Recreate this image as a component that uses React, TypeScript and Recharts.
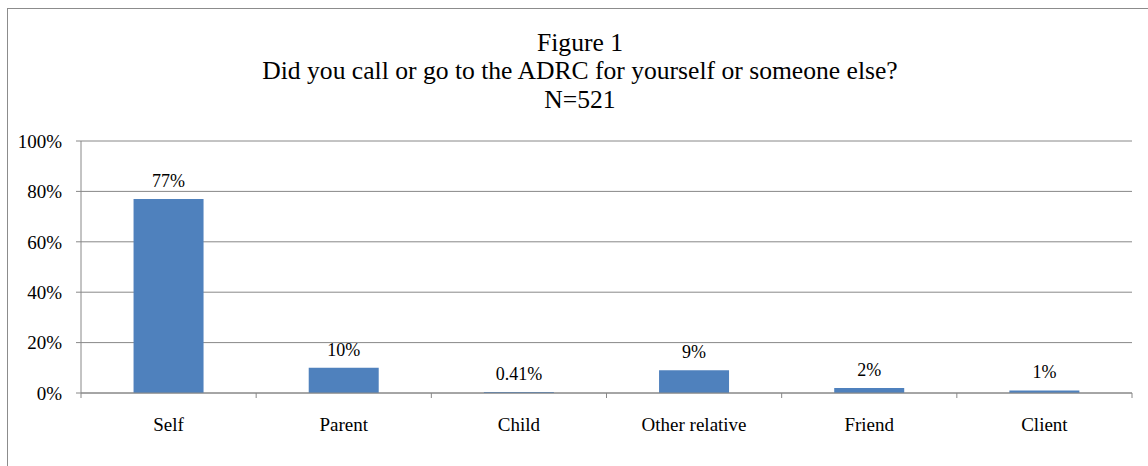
import React from 'react';
import { BarChart, Bar, XAxis, YAxis, CartesianGrid, LabelList } from 'recharts';

const categories = ['Self', 'Parent', 'Child', 'Other relative', 'Friend', 'Client'];
const shares = [77, 10, 0.41, 9, 2, 1];
const shareLabels = ['77%', '10%', '0.41%', '9%', '2%', '1%'];
const yTicks = [0, 20, 40, 60, 80, 100];
const titleLines = ['Figure 1', 'Did you call or go to the ADRC for yourself or someone else?', 'N=521'];

const data = categories.map((name, i) => ({ name, value: shares[i], label: shareLabels[i] }));

const FONT = '"Liberation Serif", "Times New Roman", serif';
const GRID = '#888888';

// category label plus the boundary tick marks (between categories, like Excel)
function CategoryTick(props: any) {
  const { x, y, payload, index, visibleTicksCount } = props;
  const band = 1051 / categories.length;
  const left = x - band / 2;
  const right = x + band / 2;
  return (
    <g>
      <line x1={left} x2={left} y1={y - 8} y2={y - 3} stroke={GRID} />
      {index === visibleTicksCount - 1 && (
        <line x1={right} x2={right} y1={y - 8} y2={y - 3} stroke={GRID} />
      )}
      <text x={x} y={y + 30} textAnchor="middle" fontSize={19} fill="#000" fontFamily={FONT}>
        {payload.value}
      </text>
    </g>
  );
}

export default function App() {
  return (
    <div style={{ position: 'absolute', left: 0, top: 0, width: 1148, height: 466, background: '#fff', overflow: 'hidden' }}>
      <div style={{ position: 'absolute', left: 7, top: 8, width: 1160, height: 480, border: '1px solid #8c8c8c' }} />
      <div style={{ position: 'absolute', left: 0, top: 28.5, width: 1160, textAlign: 'center', fontFamily: FONT, fontSize: 25.6, lineHeight: '28.5px', color: '#000' }}>
        {titleLines.map((t) => (
          <div key={t}>{t}</div>
        ))}
      </div>
      <div style={{ position: 'absolute', left: 0, top: 0 }}>
        <BarChart
          width={1148}
          height={466}
          data={data}
          margin={{ top: 141, right: 16, bottom: 0, left: 11 }}
          barCategoryGap="30%"
        >
          <CartesianGrid vertical={false} stroke={GRID} />
          <XAxis
            dataKey="name"
            axisLine={{ stroke: GRID }}
            tickLine={false}
            tick={<CategoryTick />}
            interval={0}
            height={73}
          />
          <YAxis
            width={70}
            domain={[0, 100]}
            ticks={yTicks}
            tickFormatter={(v) => `${v}%`}
            axisLine={{ stroke: GRID }}
            tickLine={{ stroke: GRID }}
            tickSize={5}
            tickMargin={14}
            tick={{ fill: '#000', fontSize: 19, fontFamily: FONT }}
          />
          <Bar dataKey="value" fill="#4F81BD" isAnimationActive={false}>
            <LabelList dataKey="label" position="top" offset={12} fill="#000" fontSize={18} fontFamily={FONT} />
          </Bar>
        </BarChart>
      </div>
    </div>
  );
}
